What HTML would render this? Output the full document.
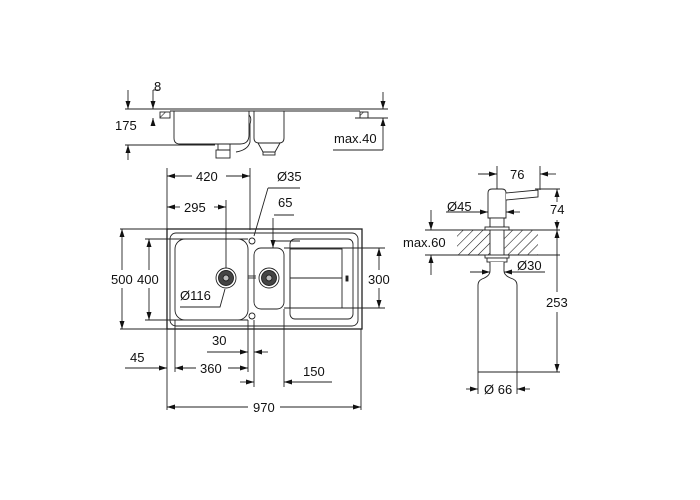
<!DOCTYPE html>
<html><head><meta charset="utf-8"><style>
html,body{margin:0;padding:0;background:#fff;}
svg{display:block;}
text{font-family:"Liberation Sans",sans-serif;font-size:13px;fill:#111;}
</style></head><body>
<svg width="700" height="500" viewBox="0 0 700 500" xmlns="http://www.w3.org/2000/svg">
<defs>
<marker id="a" markerWidth="8" markerHeight="6" refX="8" refY="3" orient="auto" markerUnits="userSpaceOnUse"><path d="M0,0.5 L8,3 L0,5.5z" fill="#111"/></marker>
<pattern id="h" width="7" height="7" patternUnits="userSpaceOnUse" patternTransform="rotate(45)"><line x1="0" y1="0" x2="0" y2="7" stroke="#111" stroke-width="1.1"/></pattern>
</defs>
<g stroke="#222" stroke-width="0.9" fill="none">
<!-- TOP SECTION VIEW -->
<line x1="125" y1="109" x2="388" y2="109"/>
<line x1="170" y1="111" x2="360" y2="111"/>
<line x1="355" y1="118" x2="388" y2="118"/>
<rect x="160" y="112" width="10" height="6" fill="url(#h)"/>
<rect x="360" y="112" width="8" height="6" fill="url(#h)"/>
<path d="M174,111 V138 Q174,144 180,144 H240 Q249,144 249,135 V111"/>
<path d="M254,111 V138 Q254,143 259,143 H279 Q284,143 284,138 V111"/>
<path d="M258,143 L263,152 H275 L280,143"/>
<rect x="263" y="152" width="12" height="3"/>
<path d="M218,144 V150 H230 V144"/><rect x="216" y="150" width="14" height="8"/>
<path d="M249,115 Q252,118 250,124 L250,142 Q248,150 236,152"/>
<line x1="125" y1="145" x2="215" y2="145"/>
<line x1="128" y1="90" x2="128" y2="109" marker-end="url(#a)"/>
<line x1="128" y1="160" x2="128" y2="145" marker-end="url(#a)"/>
<line x1="153" y1="90" x2="153" y2="109" marker-end="url(#a)"/>
<line x1="153" y1="125" x2="153" y2="118" marker-end="url(#a)"/>
<line x1="153" y1="90" x2="160" y2="90"/>
<line x1="383" y1="92" x2="383" y2="109" marker-end="url(#a)"/>
<line x1="383" y1="150" x2="383" y2="118" marker-end="url(#a)"/>
<line x1="333" y1="150" x2="383" y2="150"/>
<!-- PLAN VIEW -->
<rect x="167" y="229" width="195" height="100" stroke-width="1.3"/>
<rect x="170" y="233" width="188" height="93" rx="6"/>
<rect x="175" y="239" width="73" height="81" rx="10"/>
<rect x="254" y="248" width="30" height="61" rx="7"/>
<rect x="290" y="239" width="63" height="80" rx="5"/>
<rect x="290" y="249" width="52" height="59"/>
<line x1="290" y1="278" x2="342" y2="278"/>
<rect x="346" y="276" width="2" height="5" fill="#222"/>
<circle cx="252" cy="241" r="3"/><circle cx="252" cy="316" r="3"/>
<circle cx="226" cy="278" r="10"/><circle cx="226" cy="278" r="7.5" fill="#444"/><circle cx="226" cy="278" r="3" fill="#bbb"/>
<circle cx="269" cy="278" r="10"/><circle cx="269" cy="278" r="7.5" fill="#444"/><circle cx="269" cy="278" r="3" fill="#bbb"/>
<line x1="248" y1="278" x2="256" y2="278"/><line x1="248" y1="276" x2="256" y2="276"/>
<!-- plan dims -->
<line x1="167" y1="168" x2="167" y2="410"/>
<line x1="361" y1="329" x2="361" y2="410"/>
<line x1="250" y1="168" x2="250" y2="230"/>
<line x1="226" y1="200" x2="226" y2="268"/>
<line x1="192" y1="176" x2="167" y2="176" marker-end="url(#a)"/>
<line x1="226" y1="176" x2="250" y2="176" marker-end="url(#a)"/>
<line x1="180" y1="207" x2="167" y2="207" marker-end="url(#a)"/>
<line x1="214" y1="207" x2="226" y2="207" marker-end="url(#a)"/>
<line x1="300" y1="188" x2="268" y2="188"/><line x1="268" y1="188" x2="254" y2="236"/>
<line x1="274" y1="215" x2="294" y2="215"/>
<line x1="273" y1="218" x2="273" y2="248" marker-end="url(#a)"/>
<line x1="273" y1="241" x2="300" y2="241"/>
<line x1="120" y1="229" x2="167" y2="229"/><line x1="120" y1="329" x2="167" y2="329"/>
<line x1="122" y1="270" x2="122" y2="229" marker-end="url(#a)"/>
<line x1="122" y1="288" x2="122" y2="329" marker-end="url(#a)"/>
<line x1="145" y1="239" x2="248" y2="239"/><line x1="145" y1="320" x2="248" y2="320"/>
<line x1="149" y1="270" x2="149" y2="239" marker-end="url(#a)"/>
<line x1="149" y1="288" x2="149" y2="320" marker-end="url(#a)"/>
<line x1="284" y1="248" x2="385" y2="248"/><line x1="284" y1="308" x2="385" y2="308"/>
<line x1="379" y1="270" x2="379" y2="248" marker-end="url(#a)"/>
<line x1="379" y1="288" x2="379" y2="308" marker-end="url(#a)"/>
<polyline points="180,307 220,307 225,289"/>
<line x1="175" y1="320" x2="175" y2="372"/>
<line x1="248" y1="320" x2="248" y2="372"/>
<line x1="254" y1="320" x2="254" y2="387"/>
<line x1="284" y1="309" x2="284" y2="387"/>
<line x1="207" y1="352" x2="248" y2="352" marker-end="url(#a)"/>
<line x1="268" y1="352" x2="254" y2="352" marker-end="url(#a)"/>
<line x1="125" y1="368" x2="167" y2="368" marker-end="url(#a)"/>
<line x1="196" y1="368" x2="175" y2="368" marker-end="url(#a)"/>
<line x1="228" y1="368" x2="248" y2="368" marker-end="url(#a)"/>
<line x1="240" y1="382" x2="254" y2="382" marker-end="url(#a)"/>
<line x1="332" y1="382" x2="284" y2="382" marker-end="url(#a)"/>
<line x1="248" y1="407" x2="167" y2="407" marker-end="url(#a)"/>
<line x1="280" y1="407" x2="361" y2="407" marker-end="url(#a)"/>
<!-- DISPENSER -->
<rect x="457" y="230" width="81" height="25" fill="url(#h)" stroke="none"/>
<line x1="457" y1="230" x2="560" y2="230"/><line x1="457" y1="255" x2="560" y2="255"/>
<rect x="490" y="226" width="14" height="40" fill="#fff"/>
<path d="M488,218 V193 Q488,189 492,189 H502 Q506,189 506,193 V218 Z" fill="#fff"/>
<path d="M506,193 L538,190 V197 L506,200" fill="#fff"/>
<rect x="490" y="218" width="14" height="9" fill="#fff"/>
<rect x="485" y="227" width="24" height="3" fill="#fff"/>
<rect x="485" y="255" width="24" height="3" fill="#fff"/>
<rect x="487" y="258" width="20" height="4" fill="#fff"/>
<path d="M490,262 V271 Q490,276 482,279 Q478,281 478,285 V372 H517 V285 Q517,281 513,279 Q504,276 504,271 V262" fill="#fff"/>
<line x1="497" y1="166" x2="497" y2="189"/><line x1="540" y1="166" x2="540" y2="190"/>
<line x1="478" y1="174" x2="497" y2="174" marker-end="url(#a)"/>
<line x1="556" y1="174" x2="540" y2="174" marker-end="url(#a)"/>
<line x1="535" y1="189" x2="560" y2="189"/>
<line x1="557" y1="202" x2="557" y2="189" marker-end="url(#a)"/>
<line x1="557" y1="220" x2="557" y2="230" marker-end="url(#a)"/>
<line x1="557" y1="292" x2="557" y2="230" marker-end="url(#a)"/>
<line x1="557" y1="312" x2="557" y2="372" marker-end="url(#a)"/>
<line x1="517" y1="372" x2="560" y2="372"/>
<line x1="446" y1="212" x2="488" y2="212" marker-end="url(#a)"/>
<line x1="520" y1="212" x2="506" y2="212" marker-end="url(#a)"/>
<line x1="425" y1="230" x2="457" y2="230"/><line x1="425" y1="255" x2="457" y2="255"/>
<line x1="431" y1="210" x2="431" y2="230" marker-end="url(#a)"/>
<line x1="431" y1="275" x2="431" y2="255" marker-end="url(#a)"/>
<line x1="470" y1="272" x2="490" y2="272" marker-end="url(#a)"/>
<line x1="545" y1="272" x2="504" y2="272" marker-end="url(#a)"/>
<line x1="478" y1="372" x2="478" y2="394"/><line x1="517" y1="372" x2="517" y2="394"/>
<line x1="466" y1="389" x2="478" y2="389" marker-end="url(#a)"/>
<line x1="530" y1="389" x2="517" y2="389" marker-end="url(#a)"/>
</g>
<g>
<text x="154" y="91">8</text>
<text x="115" y="130">175</text>
<text x="334" y="143">max.40</text>
<text x="196" y="181">420</text>
<text x="277" y="181">Ø35</text>
<text x="184" y="212">295</text>
<text x="278" y="207">65</text>
<text x="111" y="284">500</text>
<text x="137" y="284">400</text>
<text x="368" y="284">300</text>
<text x="180" y="300">Ø116</text>
<text x="212" y="345">30</text>
<text x="130" y="362">45</text>
<text x="200" y="373">360</text>
<text x="303" y="376">150</text>
<text x="253" y="412">970</text>
<text x="510" y="179">76</text>
<text x="550" y="214">74</text>
<text x="447" y="211">Ø45</text>
<text x="403" y="247">max.60</text>
<text x="517" y="270">Ø30</text>
<text x="546" y="307">253</text>
<text x="484" y="394">Ø 66</text>
</g>
</svg>
</body></html>
